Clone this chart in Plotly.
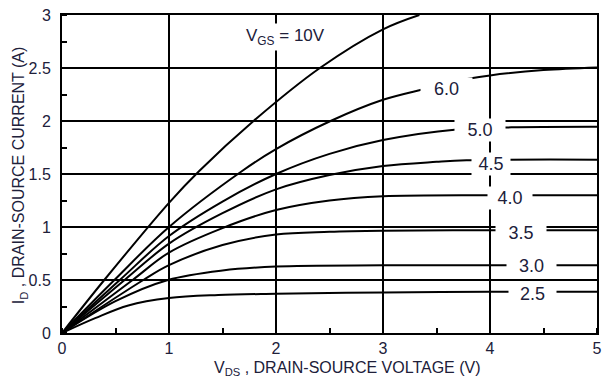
import plotly.graph_objects as go

# Drain current I_D (A) versus drain-source voltage V_DS (V), one curve per gate voltage
vgs_labels = ["10V", "6.0", "5.0", "4.5", "4.0", "3.5", "3.0", "2.5"]

vds_10v = [0, 0.395, 1.0, 1.28, 1.79, 2.41, 3.0, 3.34]
id_10v = [0, 0.50, 1.228, 1.526, 2.00, 2.50, 2.865, 3.00]

vds_6v = [0, 0.49, 1.0, 1.68, 2.0, 2.51, 3.0, 3.38, 3.81, 4.0, 4.5, 5.0]
id_6v = [0, 0.50, 1.00, 1.526, 1.735, 2.00, 2.20, 2.30, 2.40, 2.43, 2.48, 2.505]

vds_5v = [0, 0.54, 1.0, 1.5, 2.0, 2.5, 3.0, 3.69, 4.2, 5.0]
id_5v = [0, 0.50, 0.915, 1.24, 1.50, 1.69, 1.82, 1.92, 1.94, 1.945]

vds_4v5 = [0, 0.585, 1.0, 1.5, 2.0, 2.5, 3.0, 3.5, 3.78, 5.0]
id_4v5 = [0, 0.50, 0.843, 1.13, 1.355, 1.49, 1.575, 1.615, 1.63, 1.635]

vds_4v = [0, 0.66, 1.0, 1.5, 2.0, 2.5, 3.0, 4.0, 5.0]
id_4v = [0, 0.50, 0.759, 0.99, 1.16, 1.25, 1.29, 1.30, 1.30]

vds_3v5 = [0, 0.76, 1.0, 1.5, 2.0, 2.5, 3.0, 4.0, 5.0]
id_3v5 = [0, 0.50, 0.64, 0.83, 0.93, 0.955, 0.965, 0.97, 0.97]

vds_3v = [0, 0.5, 0.99, 1.5, 2.0, 3.0, 4.0, 5.0]
id_3v = [0, 0.30, 0.50, 0.59, 0.627, 0.638, 0.64, 0.64]

vds_2v5 = [0, 0.31, 0.62, 1.0, 1.46, 2.0, 3.0, 4.0, 5.0]
id_2v5 = [0, 0.14, 0.26, 0.33, 0.358, 0.37, 0.383, 0.39, 0.39]

x_ticks = [0, 1, 2, 3, 4, 5]
y_ticks = [0, 0.5, 1, 1.5, 2, 2.5, 3]
y_tick_text = ["0", "0.5", "1", "1.5", "2", "2.5", "3"]

# Where each gate-voltage tag sits on the chart (V_DS, I_D) and the width of its white gap
label_x = [2.09, 3.59, 3.91, 4.01, 4.19, 4.29, 4.39, 4.40]
label_y = [2.79, 2.306, 1.912, 1.594, 1.275, 0.947, 0.628, 0.366]
label_gap = [None, 49, 48, 36, 42, 48, 47, 45]

curves = [
    (vds_10v, id_10v), (vds_6v, id_6v), (vds_5v, id_5v), (vds_4v5, id_4v5),
    (vds_4v, id_4v), (vds_3v5, id_3v5), (vds_3v, id_3v), (vds_2v5, id_2v5),
]

TEXT = "#20203a"
FONT = "Liberation Sans, Arial, Helvetica, sans-serif"

fig = go.Figure()
for vds, i_d in curves:
    fig.add_trace(go.Scatter(
        x=vds, y=i_d, mode="lines",
        line=dict(color="black", width=2, shape="spline", smoothing=1.0),
        showlegend=False, hoverinfo="skip",
    ))

for k, name in enumerate(vgs_labels):
    if k == 0:
        txt = "V<sub>GS</sub> = " + name
        fig.add_annotation(
            x=label_x[k], y=label_y[k], text=txt, showarrow=False,
            font=dict(family=FONT, size=17, color=TEXT),
            bgcolor="white", borderpad=2,
        )
    else:
        fig.add_annotation(
            x=label_x[k], y=label_y[k], text=name, showarrow=False,
            font=dict(family=FONT, size=18, color=TEXT),
            bgcolor="white", width=label_gap[k], height=20, borderpad=1,
        )

# Axis titles
fig.add_annotation(
    xref="paper", yref="paper", x=(213 - 62) / 540, y=-0.113,
    xanchor="left", yanchor="middle", showarrow=False,
    text="V<sub>DS</sub> , DRAIN-SOURCE VOLTAGE (V)",
    font=dict(family=FONT, size=16, color=TEXT),
)
fig.add_annotation(
    xref="paper", yref="paper", x=-0.078, y=0.497,
    xanchor="center", yanchor="middle", showarrow=False, textangle=-90,
    text="I<sub>D</sub> , DRAIN-SOURCE CURRENT (A)",
    font=dict(family=FONT, size=16, color=TEXT),
)

axis_common = dict(
    showline=True, linecolor="black", linewidth=2, mirror=True,
    showgrid=True, gridcolor="black", gridwidth=1.6,
    zeroline=False, ticks="", fixedrange=True,
    tickfont=dict(family=FONT, size=16, color=TEXT),
)

fig.update_xaxes(
    range=[0, 5], tickvals=x_ticks, ticktext=[str(v) for v in x_ticks],
    minor=dict(ticks="inside", dtick=0.5, tick0=0, ticklen=5, tickcolor="black",
               tickwidth=1.5, showgrid=False),
    ticklabelstandoff=0,
    **axis_common,
)
fig.update_yaxes(
    range=[0, 3], tickvals=y_ticks, ticktext=y_tick_text,
    minor=dict(ticks="inside", dtick=0.25, tick0=0, ticklen=5, tickcolor="black",
               tickwidth=1.5, showgrid=False),
    ticklabelstandoff=6,
    **axis_common,
)

fig.update_layout(
    width=609, height=380,
    margin=dict(l=62, r=7, t=13, b=47),
    paper_bgcolor="white", plot_bgcolor="white",
    font=dict(family=FONT, color=TEXT),
)

fig.write_html("out.html", config={"displayModeBar": False})
